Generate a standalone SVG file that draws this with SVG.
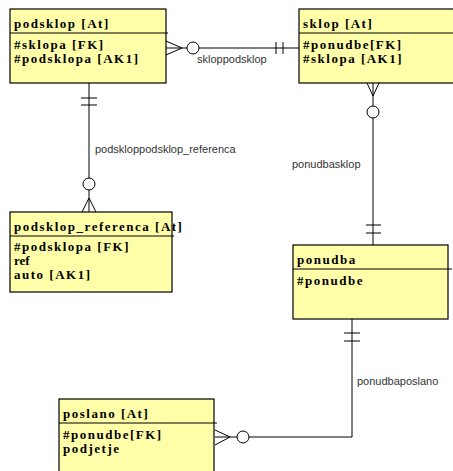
<svg xmlns="http://www.w3.org/2000/svg" width="453" height="471" viewBox="0 0 453 471">
<style>
.box{fill:#ffffaa;stroke:#000;stroke-width:1.2}
.hd{stroke:#000;stroke-width:1.2}
.t{font-family:"Liberation Serif","Times New Roman",serif;font-weight:bold;font-size:13px;letter-spacing:1.5px;fill:#000}
.c{fill:none;stroke:#000;stroke-width:1}
.circ{fill:#fff;stroke:#000;stroke-width:1}
.lbl{font-family:"Liberation Sans",Arial,sans-serif;font-size:11px;fill:#333}
</style>
<rect width="453" height="471" fill="#fff"/>
<g id="connectors">
<g id="skloppodsklop">
<line class="c" x1="166" y1="48" x2="299" y2="48"/>
<polyline class="c" points="166,41 182,48 166,55"/>
<line class="c" x1="276" y1="42" x2="276" y2="54"/>
<line class="c" x1="283" y1="42" x2="283" y2="54"/>
<circle class="circ" cx="193" cy="48" r="6"/>
<text class="lbl" x="197" y="63">skloppodsklop</text>
</g>
<g id="podskloppodsklop_referenca">
<line class="c" x1="89" y1="83" x2="89" y2="212"/>
<line class="c" x1="81" y1="98" x2="97" y2="98"/>
<line class="c" x1="81" y1="105" x2="97" y2="105"/>
<polyline class="c" points="82,212 89,198 96,212"/>
<circle class="circ" cx="89" cy="184" r="6"/>
<text class="lbl" x="95" y="153">podskloppodsklop_referenca</text>
</g>
<g id="ponudbasklop">
<line class="c" x1="373" y1="83" x2="373" y2="245"/>
<polyline class="c" points="367,83 373,96 379,83"/>
<circle class="circ" cx="373" cy="112" r="6"/>
<line class="c" x1="366" y1="225" x2="381" y2="225"/>
<line class="c" x1="366" y1="233" x2="381" y2="233"/>
<text class="lbl" x="292" y="168">ponudbasklop</text>
</g>
<g id="ponudbaposlano">
<polyline class="c" points="352,319 352,437 215,437"/>
<line class="c" x1="344" y1="333" x2="360" y2="333"/>
<line class="c" x1="344" y1="341" x2="360" y2="341"/>
<polyline class="c" points="215,430 230,437 215,445"/>
<circle class="circ" cx="243" cy="437" r="6"/>
<text class="lbl" x="357" y="385">ponudbaposlano</text>
</g>
</g>
<g id="podsklop">
<rect class="box" x="10" y="9" width="156" height="74"/>
<line class="hd" x1="10" y1="33" x2="168" y2="33"/>
<text class="t" x="14" y="28">podsklop [At]</text>
<text class="t" x="14" y="49">#sklopa [FK]</text>
<text class="t" x="14" y="63">#podsklopa [AK1]</text>
</g>
<g id="sklop">
<rect class="box" x="299" y="9" width="160" height="74"/>
<line class="hd" x1="299" y1="33" x2="460" y2="33"/>
<text class="t" x="303" y="28">sklop [At]</text>
<text class="t" x="303" y="49">#ponudbe[FK]</text>
<text class="t" x="303" y="63">#sklopa [AK1]</text>
</g>
<g id="podsklop_referenca">
<rect class="box" x="10" y="212" width="162" height="80"/>
<line class="hd" x1="10" y1="236" x2="174" y2="236"/>
<text class="t" x="14" y="231">podsklop_referenca [At]</text>
<text class="t" x="14" y="251">#podsklopa [FK]</text>
<text class="t" x="14" y="265" style="letter-spacing:0">ref</text>
<text class="t" x="14" y="279">auto [AK1]</text>
</g>
<g id="ponudba">
<rect class="box" x="293" y="245" width="155" height="74"/>
<line class="hd" x1="293" y1="269" x2="452" y2="269"/>
<text class="t" x="297" y="264">ponudba</text>
<text class="t" x="297" y="285">#ponudbe</text>
</g>
<g id="poslano">
<rect class="box" x="59" y="399" width="155" height="80"/>
<line class="hd" x1="59" y1="423" x2="217" y2="423"/>
<text class="t" x="63" y="418">poslano [At]</text>
<text class="t" x="63" y="439">#ponudbe[FK]</text>
<text class="t" x="63" y="453">podjetje</text>
</g>
</svg>
